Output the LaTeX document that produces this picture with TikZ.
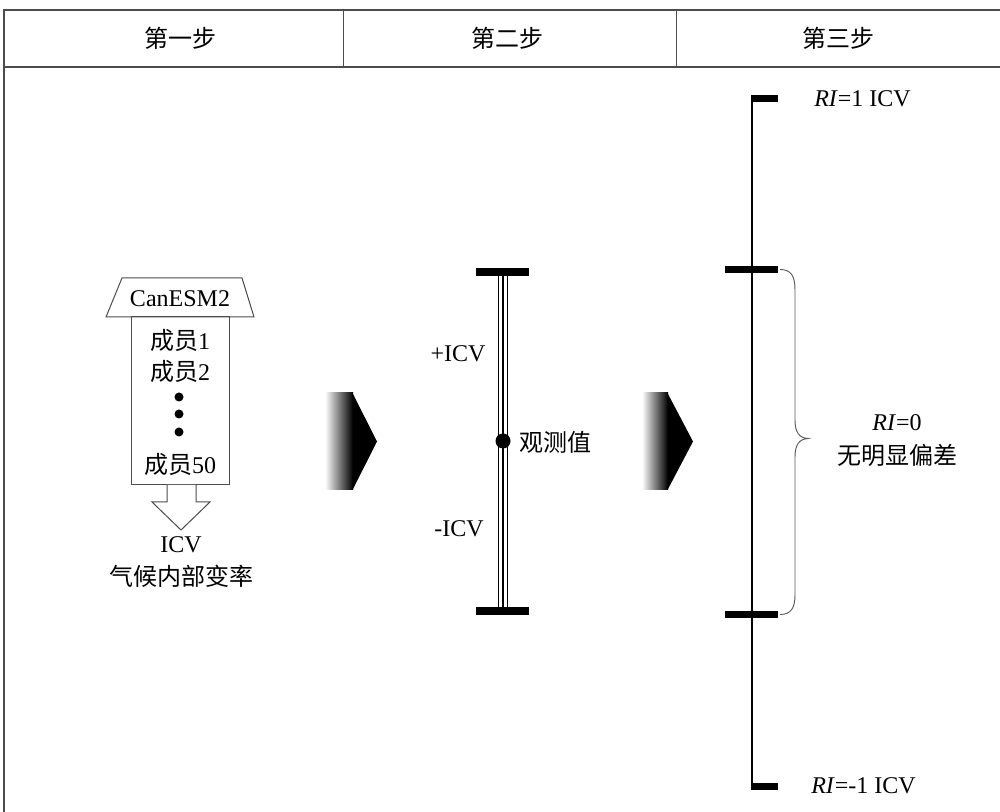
\documentclass[tikz,border=0pt]{standalone}
\usepackage{fontspec}
\setmainfont{Liberation Serif}
\newfontfamily\cjk{Noto Sans CJK SC}
\usetikzlibrary{calc}
\begin{document}
\begin{tikzpicture}[x=0.75pt,y=-0.75pt,
  txt/.style={inner sep=0pt,font=\fontsize{18}{21}\selectfont},
  frameline/.style={draw=black!70,line width=0.8pt},
  thinbox/.style={draw=black!70,line width=0.75pt},
  capbar/.style={fill=black},
  gradarrow/.style={left color=white,right color=black}]
\useasboundingbox (0,0) rectangle (1000,812);
% header frame
\draw[frameline] (1001,10) -- (4,10) -- (4,813);
\draw[frameline] (4,67) -- (1001,67);
\draw[thinbox] (343,10) -- (343,67);
\draw[thinbox] (676,10) -- (676,67);
\node[txt] (h1) at (180,38) {\cjk 第一步};
\node[txt] (h2) at (507,38) {\cjk 第二步};
\node[txt] (h3) at (838,38) {\cjk 第三步};
% step 1
\draw[thinbox,fill=white] (122,278) -- (242,278) -- (254,317) -- (106,317) -- cycle;
\node[txt] (model) at (180,299) {CanESM2};
\draw[thinbox] (131,317) rectangle (229,485);
\node[txt] (m1) at (180,340) {{\cjk 成员}1};
\node[txt] (m2) at (180,371) {{\cjk 成员}2};
\fill (179,397) circle (4.5) (179,414) circle (4.5) (179,432) circle (4.5);
\node[txt] (m50) at (180,464) {{\cjk 成员}50};
\draw[thinbox,fill=white] (167,485) -- (167,502) -- (152,502) -- (181,530) -- (210,502) -- (196,502) -- (196,485);
\node[txt] (icv) at (181,545) {ICV};
\node[txt] (icvcn) at (181,576) {\cjk 气候内部变率};
% gradient arrows
\shade[gradarrow] (325,393) rectangle (353,490);
\fill (352.5,393) -- (377,441.5) -- (352.5,490) -- cycle;
\shade[gradarrow] (642,393) rectangle (668,490);
\fill (667.5,393) -- (693,441.5) -- (667.5,490) -- cycle;
% step 2
\coordinate (g2t) at (503,272);
\coordinate (g2b) at (503,611);
\draw[line width=0.75pt] ($(g2t)+(-4.5,0)$) -- ($(g2b)+(-4.5,0)$);
\draw[line width=0.75pt] ($(g2t)+(4.5,0)$) -- ($(g2b)+(4.5,0)$);
\draw[line width=1.6pt] (g2t) -- (g2b);
\fill[capbar] (476,268) rectangle (529,276);
\fill[capbar] (476,607) rectangle (529,615);
\fill (503,441) circle (7.5);
\node[txt,anchor=west] (obs) at (519,442) {\cjk 观测值};
\node[txt] (picv) at (458,354) {+ICV};
\node[txt] (micv) at (459,529) {-ICV};
% step 3
\draw[line width=1.9pt] (752,95) -- (752,790);
\fill[capbar] (751,95) rectangle (778,102.5);
\fill[capbar] (751,782.5) rectangle (778,790);
\fill[capbar] (725,266) rectangle (778,273);
\fill[capbar] (725,611) rectangle (778,618);
\draw[black!65,line width=0.7pt] (780,269.5) .. controls (791,269.5) and (795,276) .. (795,290)
  -- (795,420) .. controls (795,432) and (799,438) .. (808,438.5)
  .. controls (799,439) and (795,445) .. (795,457)
  -- (795,595) .. controls (795,608) and (791,614.5) .. (780,614.5);
\node[txt,anchor=west] (ri1) at (814,99) {\textit{RI}=1 ICV};
\node[txt] (ri0) at (897,423) {\textit{RI}=0};
\node[txt] (nobias) at (897,455) {\cjk 无明显偏差};
\node[txt,anchor=west] (rim1) at (811,786) {\textit{RI}=-1 ICV};
\end{tikzpicture}
\end{document}
